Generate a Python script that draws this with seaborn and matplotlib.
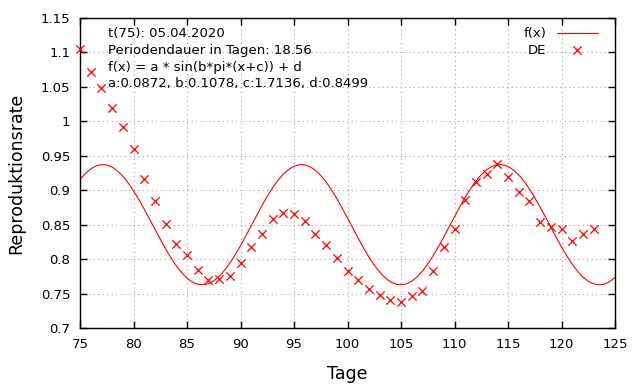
import numpy as np
import pandas as pd
import matplotlib
matplotlib.use("Agg")
import matplotlib.pyplot as plt
import seaborn as sns

# Reproduktionsrate DE, Tage 75..123
days = list(range(75, 124))
rate = [1.105, 1.071, 1.048, 1.019, 0.992, 0.960, 0.917, 0.884, 0.851, 0.822,
        0.806, 0.784, 0.770, 0.771, 0.775, 0.795, 0.817, 0.836, 0.858, 0.867,
        0.865, 0.855, 0.836, 0.820, 0.801, 0.783, 0.769, 0.756, 0.748, 0.741,
        0.738, 0.747, 0.754, 0.782, 0.817, 0.844, 0.886, 0.912, 0.923, 0.938,
        0.919, 0.898, 0.885, 0.854, 0.847, 0.843, 0.826, 0.837, 0.843]

# fit parameters as printed in the chart
fit_a, fit_b, fit_c, fit_d = 0.0872, 0.1078, 1.7136, 0.8499
info_lines = ["t(75): 05.04.2020",
              "Periodendauer in Tagen: 18.56",
              "f(x) = a * sin(b*pi*(x+c)) + d",
              "a:0.0872, b:0.1078, c:1.7136, d:0.8499"]

df = pd.DataFrame({"Tage": days, "Rate": rate})
xs = np.linspace(75, 125, 500)
fit_df = pd.DataFrame({"Tage": xs,
                       "f": fit_a * np.sin(fit_b * np.pi * (xs + fit_c)) + fit_d})

sns.set_style("white")
plt.rcParams["font.family"] = ["DejaVu Sans"]
plt.rcParams["text.color"] = "black"
plt.rcParams["axes.labelcolor"] = "black"

fig = plt.figure(figsize=(6.4, 3.84), dpi=100)
ax = fig.add_axes([0.125, 0.146, 0.836, 0.807])

sns.lineplot(data=fit_df, x="Tage", y="f", color="#ff0000", lw=0.8, label="f(x)", ax=ax)
sns.scatterplot(data=df, x="Tage", y="Rate", marker="x", color="#ff0000", s=36,
                linewidth=0.9, label="DE", ax=ax, clip_on=False, zorder=3)

ax.set_xlim(75, 125)
ax.set_ylim(0.7, 1.15)
ax.set_xticks(range(75, 126, 5))
ax.set_yticks(np.arange(0.7, 1.151, 0.05))
ax.set_yticklabels(["0.7", "0.75", "0.8", "0.85", "0.9", "0.95", "1", "1.05", "1.1", "1.15"])
ax.grid(True, color="#a0a0a0", linestyle=(0, (1, 3)), linewidth=0.8)
ax.tick_params(direction="in", length=5, width=1, bottom=True, left=True,
               top=True, right=True, labelsize=9.5, colors="black", pad=7)
for sp in ax.spines.values():
    sp.set_color("black")
    sp.set_linewidth(1)

ax.set_xlabel("Tage", fontsize=12.5, labelpad=10)
ax.set_ylabel("Reproduktionsrate", fontsize=12.5, labelpad=11)

for i, line in enumerate(info_lines):
    ax.text(0.052, 0.95 - i * 0.054, line, transform=ax.transAxes,
            fontsize=9.5, va="center", ha="left")

ax.legend(loc="upper right", frameon=False, markerfirst=False, fontsize=9.5,
          handlelength=3.1, borderaxespad=0.3, labelspacing=0.25,
          bbox_to_anchor=(0.985, 1.0))

fig.savefig("out.png", dpi=100)
